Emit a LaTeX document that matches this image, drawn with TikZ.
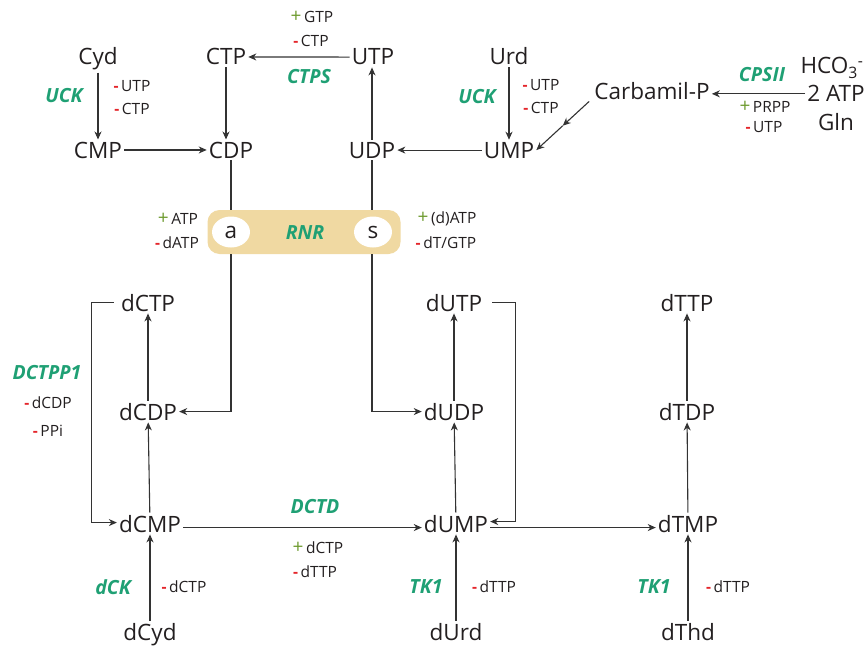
\documentclass[tikz,border=0pt]{standalone}
\usepackage{fontspec}
\setmainfont{Open Sans}
\usetikzlibrary{arrows.meta,shapes.geometric,calc}
\definecolor{txt}{HTML}{231F20}
\definecolor{enzc}{HTML}{1FA074}
\definecolor{plc}{HTML}{6E9B30}
\definecolor{mnc}{HTML}{E4252A}
\definecolor{rnrfill}{HTML}{F0D9A2}
\definecolor{lncol}{HTML}{333333}
\newcommand\mn{{\color{mnc}\bfseries -}\,}
\newcommand\pl{{\color{plc}\fontsize{19}{17}\selectfont +}\,}
\begin{document}
\begin{tikzpicture}[x=1pt,y=-1pt,
 met/.style={font=\fontsize{22.5}{24}\selectfont, text=txt, inner sep=2pt, anchor=base},
 enzl/.style={font=\fontsize{19.5}{20}\selectfont\bfseries\itshape, text=enzc, inner sep=0pt},
 reg/.style={font=\fontsize{15.5}{16}\selectfont, text=txt, inner sep=0pt},
 arr/.style={draw=lncol, line width=1.1pt, -{Stealth[length=8pt,width=7pt,inset=2.5pt]}},
 plain/.style={draw=lncol, line width=1.1pt},
 bub/.style={ellipse, fill=white, minimum width=38pt, minimum height=31pt, inner sep=0pt, font=\fontsize{22.5}{24}\selectfont, text=txt}]
\useasboundingbox (0,0) rectangle (866,647);
% top metabolites
\node[met] (Cyd) at (98,65) {Cyd};
\node[met] (CMP) at (98,158) {CMP};
\node[met] (CTP) at (226,65) {CTP};
\node[met] (CDP) at (231,158) {CDP};
\node[met] (UTP) at (373,65) {UTP};
\node[met] (UDP) at (372,158) {UDP};
\node[met] (Urd) at (509,65) {Urd};
\node[met] (UMP) at (509,158) {UMP};
\node[met] (Carb) at (652,100) {Carbamil-P};
\node[met] (hco) at (832,74) {HCO\textsubscript{3}\textsuperscript{-}};
\node[met] (atp) at (836,102) {2 ATP};
\node[met] (gln) at (836,131) {Gln};
% enzymes top
\node[enzl] (uck1) at (64,96) {UCK};
\node[enzl] (uck2) at (477,97) {UCK};
\node[enzl] (ctps) at (309,77) {CTPS};
\node[enzl] (cps) at (762,75) {CPSII};
\node[reg] (r1) at (132,86) {\mn UTP};
\node[reg] (r2) at (132,109) {\mn CTP};
\node[reg] (r3) at (312,17) {\pl GTP};
\node[reg] (r4) at (311,41) {\mn CTP};
\node[reg] (r5) at (541,85) {\mn UTP};
\node[reg] (r6) at (541,108) {\mn CTP};
\node[reg] (r7) at (765,107) {\pl PRPP};
\node[reg] (r8) at (764,127) {\mn UTP};
% top arrows
\draw[arr] (Cyd) -- (CMP);
\draw[arr] (CTP.south) -- (CTP.south |- CDP.north);
\draw[arr] (UDP.north) -- (UDP.north |- UTP.south);
\draw[arr] (UTP) -- (CTP);
\draw[arr] (CMP) -- (CDP);
\draw[arr] (UMP) -- (UDP);
\draw[arr] (Urd) -- (UMP);
\draw[arr] (atp.west) -- (atp.west -| Carb.east);
\coordinate (cstart) at ([xshift=-3pt,yshift=1pt]Carb.south west);
\coordinate (cmid) at ($(cstart)!0.5!(UMP.east)$);
\draw[arr] (cstart) -- (cmid);
\draw[arr] (cmid) -- (UMP.east);
% RNR
\draw[plain] (CDP.south) -- (CDP.south |- 0,212);
\draw[plain] (UDP.south) -- (UDP.south |- 0,212);
\node[fill=rnrfill, rounded corners=12pt, minimum width=193pt, minimum height=44pt, inner sep=0pt] (rnr) at (304,232) {};
\node[bub] (ca) at (231,232) {a};
\node[bub] (cs) at (373,232) {s};
\node[enzl] (rnrl) at (305,233) {RNR};
\node[reg] (r9) at (178,219) {\pl ATP};
\node[reg] (r10) at (177,243) {\mn dATP};
\node[reg] (r11) at (447,219) {\pl (d)ATP};
\node[reg] (r12) at (446,243) {\mn dT/GTP};
% deoxy metabolites
\node[met] (dCTP) at (148,311) {dCTP};
\node[met] (dCDP) at (148,420) {dCDP};
\node[met] (dCMP) at (150,532) {dCMP};
\node[met] (dCyd) at (150,640) {dCyd};
\node[met] (dUTP) at (454,311) {dUTP};
\node[met] (dUDP) at (454,420) {dUDP};
\node[met] (dUMP) at (456,532) {dUMP};
\node[met] (dUrd) at (456,640) {dUrd};
\node[met] (dTTP) at (687,311) {dTTP};
\node[met] (dTDP) at (687,420) {dTDP};
\node[met] (dTMP) at (688,532) {dTMP};
\node[met] (dThd) at (688,640) {dThd};
% RNR outputs
\draw[arr] (CDP.south |- rnr.south) |- (dCDP.east);
\draw[arr] (UDP.south |- rnr.south) |- (dUDP.west);
% vertical arrows
\draw[arr] (dCDP) -- (dCTP);
\draw[arr] (dCMP) -- (dCDP);
\draw[arr] (dCyd) -- (dCMP);
\draw[arr] (dUDP) -- (dUTP);
\draw[arr] (dUMP) -- (dUDP);
\draw[arr] (dUrd) -- (dUMP);
\draw[arr] (dTDP) -- (dTTP);
\draw[arr] (dTMP) -- (dTDP);
\draw[arr] (dThd) -- (dTMP);
% loops
\draw[arr] ([xshift=-5pt]dCTP.west) -- ([xshift=-27pt]dCTP.west) |- ([yshift=1pt]dCMP.west);
\draw[arr] ([xshift=8pt]dUTP.east) -- ([xshift=31pt]dUTP.east) |- ([yshift=2pt]dUMP.east);
% horizontals
\draw[arr] ([yshift=-4pt]dCMP.east) -- ([yshift=-4pt]dUMP.west);
\draw[arr] ([yshift=-4pt]dUMP.east) -- ([yshift=-4pt]dTMP.west);
% enzymes bottom
\node[enzl] (dctpp) at (47,373) {DCTPP1};
\node[reg] (r13) at (48,403) {\mn dCDP};
\node[reg] (r14) at (48,431) {\mn PPi};
\node[enzl] (dctd) at (315,507) {DCTD};
\node[reg] (r15) at (318,548) {\pl dCTP};
\node[reg] (r16) at (315,572) {\mn dTTP};
\node[enzl] (dck) at (113,587) {dCK};
\node[reg] (r17) at (184,587) {\mn dCTP};
\node[enzl] (tk1a) at (426,587) {TK1};
\node[reg] (r18) at (494,587) {\mn dTTP};
\node[enzl] (tk1b) at (654,587) {TK1};
\node[reg] (r19) at (728,587) {\mn dTTP};
\end{tikzpicture}
\end{document}
